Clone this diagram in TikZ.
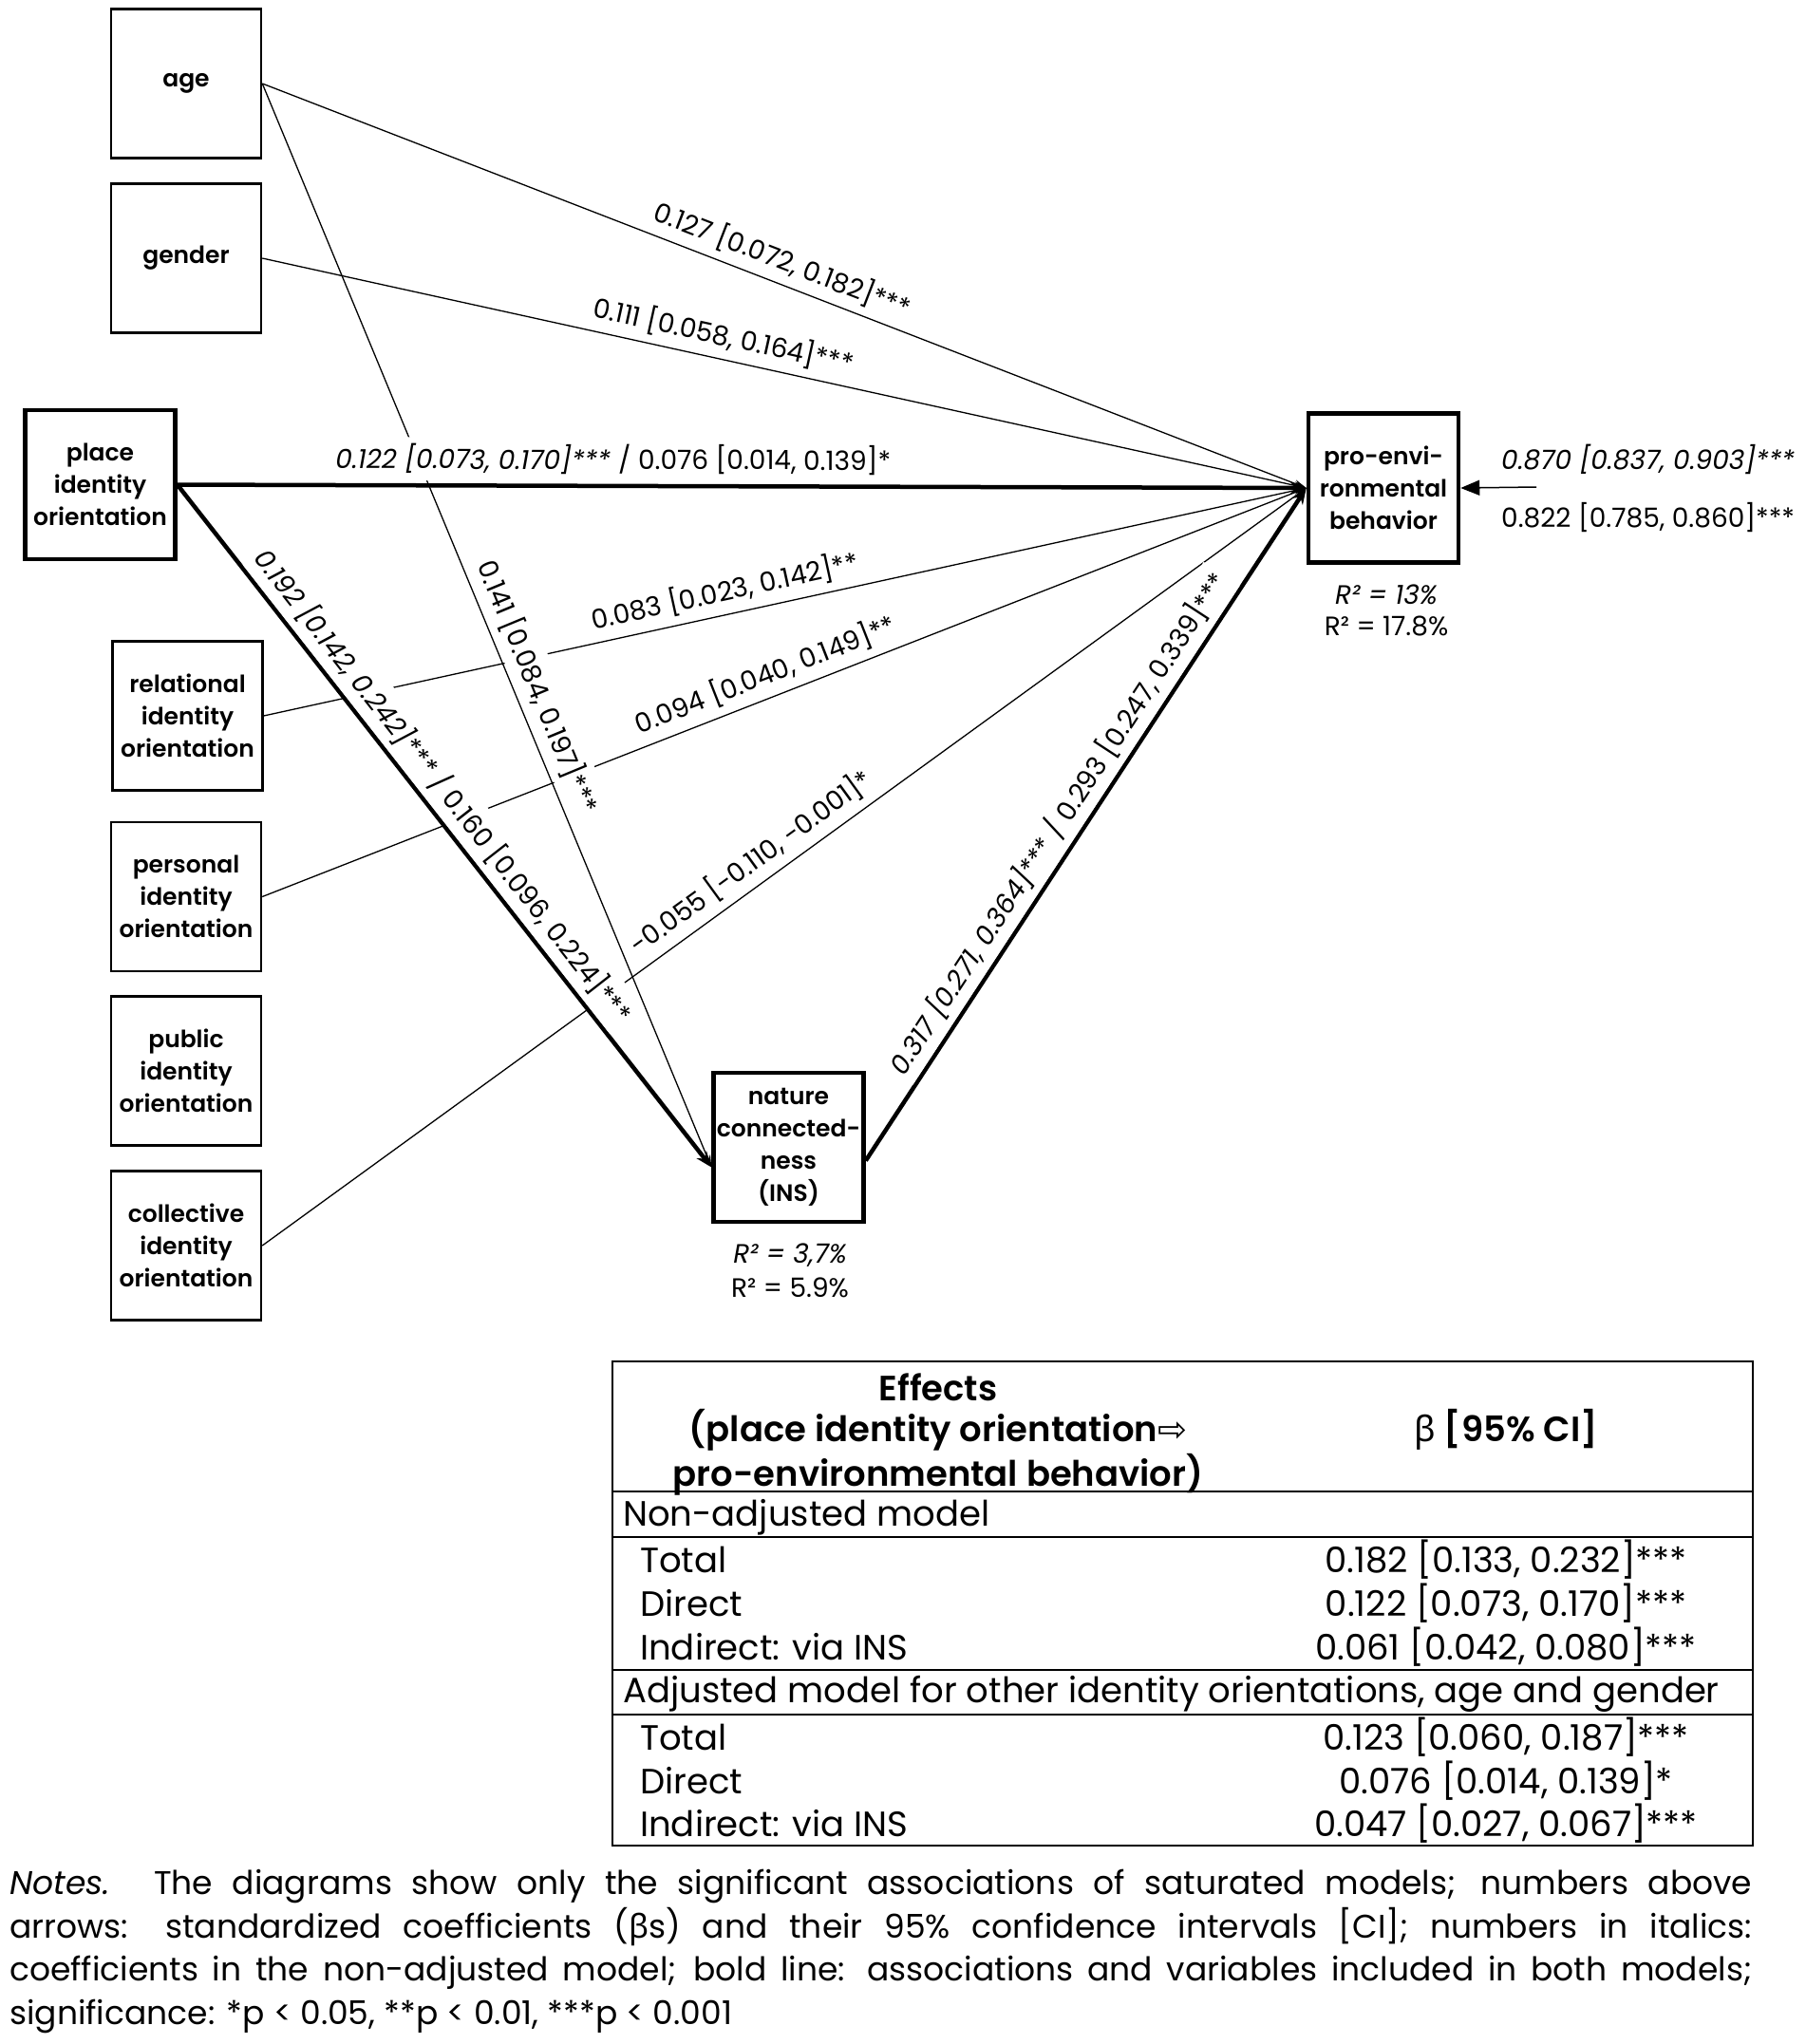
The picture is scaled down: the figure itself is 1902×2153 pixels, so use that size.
\documentclass[tikz,border=0pt]{standalone}
\usepackage{fontspec}
\setmainfont{Poppins}
\newfontfamily\symfont{DejaVu Sans}
\newfontfamily\grfont{Noto Sans}
\IfFontExistsTF{Poppins SemiBold}{\newfontfamily\semib{Poppins SemiBold}}{\newcommand{\semib}{\bfseries}}
\usetikzlibrary{arrows.meta,calc}
\newcommand{\boxfont}{\fontsize{25pt}{34pt}\selectfont\semib}
\newcommand{\labfont}{\fontsize{28pt}{32pt}\selectfont}
\newcommand{\rfont}{\fontsize{28pt}{32pt}\selectfont}
\newcommand{\tabfont}{\fontsize{37pt}{42pt}\selectfont}
\newcommand{\notefont}{\fontsize{34.5pt}{45.5pt}\selectfont}
\begin{document}
\begin{tikzpicture}[x=1pt,y=-1pt,
  box/.style={draw, line width=2.5pt, minimum width=158pt, minimum height=157pt, inner sep=0pt, align=center, font=\boxfont},
  mainbox/.style={box, line width=4.5pt},
  thinarrow/.style={line width=1.3pt, -{Stealth[length=13pt,width=8pt]}},
  thickarrow/.style={line width=4.5pt, -{Stealth[length=17pt,width=13pt]}},
  lab/.style={sloped, fill=white, inner xsep=2pt, inner ysep=7pt, font=\labfont},
  tabtxt/.style={font=\tabfont, inner sep=0pt},
]
\useasboundingbox (0,0) rectangle (1902,2153);

% boxes
\node[box] (age) at (196,88) {age};
\node[box] (gender) at (196,272) {gender};
\node[mainbox] (place) at (105.5,510.5) {place\\identity\\orientation};
\node[box] (rel) at (197.5,754) {relational\\identity\\orientation};
\node[box] (pers) at (196,944.5) {personal\\identity\\orientation};
\node[box] (pub) at (196,1128) {public\\identity\\orientation};
\node[box] (coll) at (196,1312) {collective\\identity\\orientation};
\node[mainbox] (pro) at (1457,514) {pro-envi-\\ronmental\\behavior};
\node[mainbox] (ins) at (830.5,1208.5) {nature\\connected-\\ness\\(INS)};

\coordinate (insin) at ([yshift=-21pt]ins.west);
\coordinate (insout) at ([yshift=-14pt]ins.east);
\coordinate (extra) at (1618,513);

% connectors
\draw[thinarrow] (age.east) -- (pro.west);
\draw[thinarrow] (gender.east) -- (pro.west);
\draw[thinarrow] (rel.east) -- (pro.west);
\draw[thinarrow] (pers.east) -- (pro.west);
\draw[thinarrow] (coll.east) -- (pro.west);
\draw[thinarrow] (age.east) -- (insin);
\draw[thickarrow] (place.east) -- (pro.west);
\draw[thickarrow] (place.east) -- (insin);
\draw[thickarrow] (insout) -- (pro.west);
\draw[line width=1.5pt, -{Triangle[length=20pt,width=16pt]}] (extra) -- (pro.east);

% labels
\path (age.east) -- (pro.west) node[lab, pos=0.49, above=2pt] {0.127 [0.072, 0.182]***};
\path (gender.east) -- (pro.west) node[lab, pos=0.437, above=2pt] {0.111 [0.058, 0.164]***};
\path (place.east) -- (pro.west) node[lab, pos=0.386, above=5pt] {\itshape 0.122 [0.073, 0.170]*** \upshape / 0.076 [0.014, 0.139]*};
\path (place.east) -- (insin) node[lab, pos=0.463, above=2pt] {\itshape 0.192 [0.142, 0.242]*** \upshape / 0.160 [0.096, 0.224]***};
\path (age.east) -- (insin) node[lab, pos=0.565, above=2pt] {0.141 [0.084, 0.197]***};
\path (rel.east) -- (pro.west) node[lab, pos=0.447, above=2pt] {0.083 [0.023, 0.142]**};
\path (pers.east) -- (pro.west) node[lab, pos=0.49, above=2pt] {0.094 [0.040, 0.149]**};
\path (coll.east) -- (pro.west) node[lab, pos=0.481, above=2pt] {-0.055 [-0.110, -0.001]*};
\path (insout) -- (pro.west) node[lab, pos=0.482, above=2pt] {\itshape 0.317 [0.271, 0.364]*** \upshape / 0.293 [0.247, 0.339]***};

\node[font=\labfont, anchor=west, inner sep=0pt] (e1) at (1581,484) {\itshape 0.870 [0.837, 0.903]***};
\node[font=\labfont, anchor=west, inner sep=0pt] (e2) at (1581,545) {0.822 [0.785, 0.860]***};

% R2
\node[font=\rfont, inner sep=0pt] (rp1) at (1460,626) {\itshape R² = 13\%};
\node[font=\rfont, inner sep=0pt] (rp2) at (1460,659) {R² = 17.8\%};
\node[font=\rfont, inner sep=0pt] (ri1) at (832,1322) {\itshape R² = 3,7\%};
\node[font=\rfont, inner sep=0pt] (ri2) at (832,1356) {R² = 5.9\%};

% table
\draw[line width=2pt] (645,1434) rectangle (1846,1944);
\foreach \yy in {1571,1619,1759,1806} \draw[line width=2pt] (645,\yy) -- (1846,\yy);
\node[tabtxt] (h1) at (988,1461) {\semib Effects};
\node[tabtxt] (h2) at (988,1506) {\semib (place identity orientation{\symfont ⇨}};
\node[tabtxt] (h3) at (988,1553) {\semib pro-environmental behavior)};
\node[tabtxt] (h4) at (1586,1506) {\semib {\grfont\bfseries β} [95\% CI]};
\node[tabtxt, anchor=west] (s1) at (656,1598) {Non-adjusted model};
\node[tabtxt, anchor=west] (a1) at (674,1643) {Total};
\node[tabtxt, anchor=west] (a2) at (674,1689) {Direct};
\node[tabtxt, anchor=west] (a3) at (674,1735) {Indirect: via INS};
\node[tabtxt, anchor=west] (s2) at (656,1784) {Adjusted model for other identity orientations, age and gender};
\node[tabtxt, anchor=west] (b1) at (674,1830) {Total};
\node[tabtxt, anchor=west] (b2) at (674,1876) {Direct};
\node[tabtxt, anchor=west] (b3) at (674,1921) {Indirect: via INS};
\node[tabtxt] (v1) at (1586,1643) {0.182 [0.133, 0.232]***};
\node[tabtxt] (v2) at (1586,1689) {0.122 [0.073, 0.170]***};
\node[tabtxt] (v3) at (1586,1735) {0.061 [0.042, 0.080]***};
\node[tabtxt] (w1) at (1586,1830) {0.123 [0.060, 0.187]***};
\node[tabtxt] (w2) at (1586,1876) {0.076 [0.014, 0.139]*};
\node[tabtxt] (w3) at (1586,1921) {0.047 [0.027, 0.067]***};

% notes
\node[anchor=north west, inner sep=0pt, text width=1835pt, align=justify, font=\notefont] (notes) at (10,1969)
{{\itshape Notes.} The diagrams show only the significant associations of saturated models; numbers above\linebreak
arrows: standardized coefficients ({\grfont β}s) and their 95\% confidence intervals [CI]; numbers in italics:\linebreak
coefficients in the non-adjusted model; bold line: associations and variables included in both models;\linebreak
significance: *p < 0.05, **p < 0.01, ***p < 0.001};
\end{tikzpicture}
\end{document}
